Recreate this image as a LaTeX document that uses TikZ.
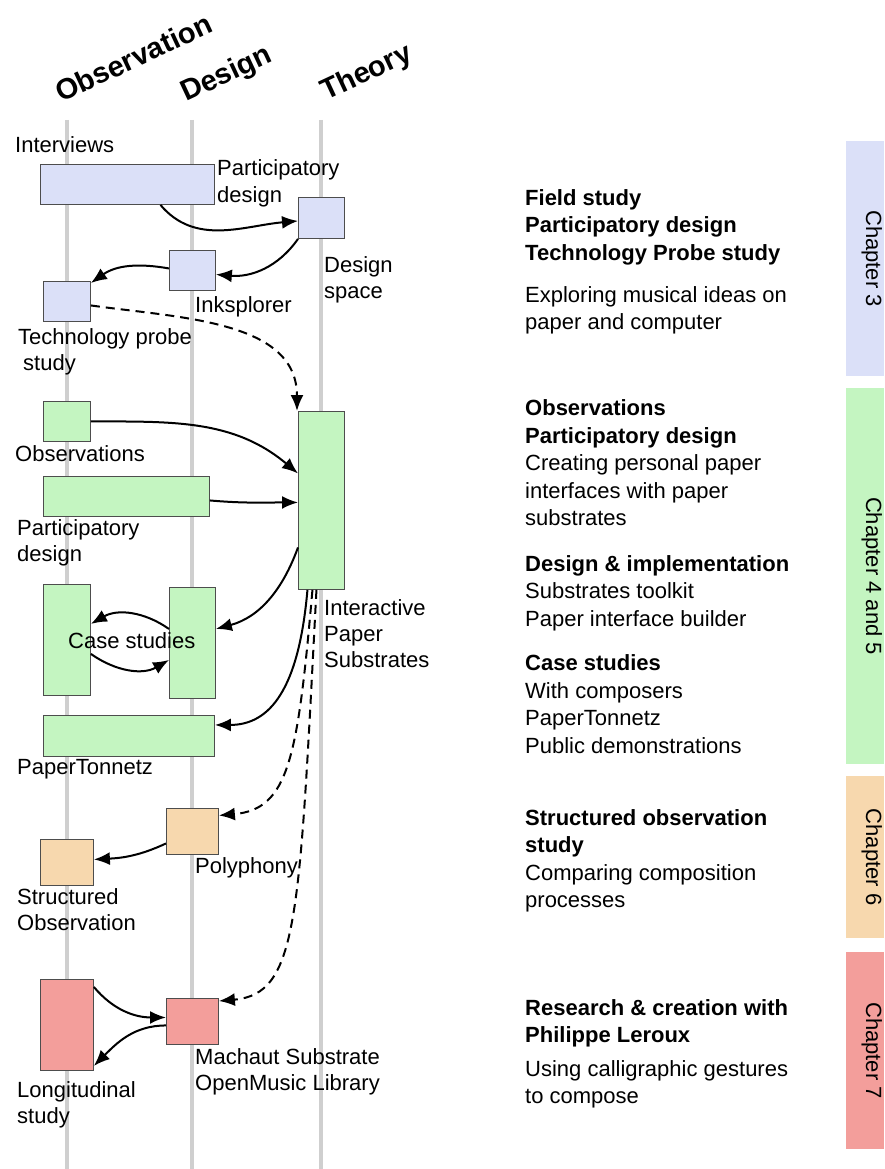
\documentclass[tikz,border=0pt]{standalone}
\usepackage{fontspec}
\setmainfont{Liberation Sans}
\usetikzlibrary{arrows.meta}

\definecolor{chapblue}{HTML}{DBE0F8}
\definecolor{chapgreen}{HTML}{C4F5C1}
\definecolor{chaporange}{HTML}{F7D8AE}
\definecolor{chapred}{HTML}{F39E9B}
\definecolor{railgray}{HTML}{CFCFCF}
\definecolor{boxline}{HTML}{4D4D4D}

\tikzset{
  rail/.style={draw=railgray, line width=4pt},
  stepbox/.style={draw=boxline, line width=0.9pt, inner sep=0pt, anchor=north west},
  lbl/.style={anchor=base west, align=left, inner sep=0pt, font=\fontsize{22}{26}\selectfont},
  rtext/.style={anchor=base west, align=left, inner sep=0pt, font=\fontsize{22}{27.5}\selectfont},
  head/.style={anchor=base west, inner sep=0pt, rotate=25, font=\bfseries\fontsize{29}{35}\selectfont},
  chaplbl/.style={anchor=base, inner sep=0pt, rotate=-90, font=\fontsize{22}{26}\selectfont},
  flow/.style={draw=black, line width=2pt, -{Latex[length=16pt,width=13pt]}},
  later/.style={flow, dash pattern=on 9pt off 6pt}
}

\begin{document}
\begin{tikzpicture}[x=1pt,y=1pt]
    \useasboundingbox (0,0) rectangle (884,-1169);

    % the three columns
    \foreach \xr in {67,192,321}
        \draw[rail] (\xr,-120) -- (\xr,-1169);

    \node[head] (hobs) at (61,-103) {Observation};
    \node[head] (hdes) at (186,-102) {Design};
    \node[head] (hthe) at (326,-101) {Theory};

    % chapter 3
    \node[stepbox, fill=chapblue, minimum width=174pt, minimum height=40pt] (interviews) at (40,-164) {};
    \node[stepbox, fill=chapblue, minimum width=46pt, minimum height=41pt] (dspace) at (298,-197) {};
    \node[stepbox, fill=chapblue, minimum width=46pt, minimum height=40pt] (inksp) at (169,-250) {};
    \node[stepbox, fill=chapblue, minimum width=47pt, minimum height=40pt] (probe) at (43,-281) {};

    % multi-line labels sit on their last line
    \node[lbl] (linterviews) at (15,-153) {Interviews};
    \node[lbl] (lpdone) at (217,-202) {Participatory\\design};
    \node[lbl] (ldspace) at (324,-298) {Design\\space};
    \node[lbl] (linksp) at (195,-312) {Inksplorer};
    \node[lbl] (lprobe) at (18,-370) {Technology probe\\\hspace*{5pt}study};

    % chapter 4 and 5
    \node[stepbox, fill=chapgreen, minimum width=47pt, minimum height=40pt] (obs) at (43,-401) {};
    \node[stepbox, fill=chapgreen, minimum width=166pt, minimum height=40pt] (pd) at (43,-476) {};
    \node[stepbox, fill=chapgreen, minimum width=46pt, minimum height=178pt] (ips) at (298,-411) {};
    \node[stepbox, fill=chapgreen, minimum width=47pt, minimum height=111pt] (caseL) at (43,-584) {};
    \node[stepbox, fill=chapgreen, minimum width=46pt, minimum height=111pt] (caseR) at (169,-587) {};
    \node[stepbox, fill=chapgreen, minimum width=171pt, minimum height=41pt] (tonnetz) at (43,-715) {};

    \node[lbl] (lobs) at (15,-461) {Observations};
    \node[lbl] (lpd) at (17,-561) {Participatory\\design};
    \node[lbl] (lcase) at (68,-648) {Case studies};
    \node[lbl] (lips) at (324,-667) {Interactive\\Paper\\Substrates};
    \node[lbl] (ltonnetz) at (17,-774) {PaperTonnetz};

    % chapter 6 and 7
    \node[stepbox, fill=chaporange, minimum width=52pt, minimum height=46pt] (poly) at (166,-808) {};
    \node[stepbox, fill=chaporange, minimum width=53pt, minimum height=46pt] (struct) at (40,-839) {};
    \node[stepbox, fill=chapred, minimum width=53pt, minimum height=91pt] (longi) at (40,-979) {};
    \node[stepbox, fill=chapred, minimum width=52pt, minimum height=46pt] (machaut) at (166,-998) {};

    \node[lbl] (lpoly) at (195,-873) {Polyphony};
    \node[lbl] (lstruct) at (17,-930) {Structured\\Observation};
    \node[lbl] (llongi) at (17,-1123) {Longitudinal\\study};
    \node[lbl] (lmachaut) at (195,-1090) {Machaut Substrate\\OpenMusic Library};

    % connectors
    \draw[flow] ([xshift=33pt]interviews.south) to[out=-50,in=185] ([yshift=-3pt]dspace.west);
    \draw[flow] (dspace.south west) to[out=-125,in=-5] ([yshift=-4pt]inksp.east);
    \draw[flow] ([yshift=2pt]inksp.west) to[out=170,in=35] ([yshift=-2pt]probe.north east);
    \draw[later] ([yshift=-4pt]probe.east) to[out=-8,in=90] ([xshift=-1pt]ips.north west);

    \draw[flow] (obs.east) to[out=0,in=140] ([yshift=27pt]ips.west);
    \draw[flow] ([yshift=-4pt]pd.east) to[out=-5,in=180] ([yshift=-2pt]ips.west);
    \draw[flow] ([yshift=-47pt]ips.west) to[out=-110,in=15] ([yshift=14pt]caseR.east);
    \draw[flow] ([yshift=14pt]caseR.west) to[out=145,in=30] ([yshift=16pt]caseL.east);
    \draw[flow] ([yshift=-14pt]caseL.east) to[out=-35,in=-150] ([yshift=-17pt]caseR.west);
    \draw[flow] ([xshift=-14pt]ips.south) .. controls +(-95:100) and +(0:55) .. ([yshift=11pt]tonnetz.east);
    \draw[later] ([xshift=-9pt]ips.south) .. controls +(-95:170) and +(5:70) .. ([yshift=16pt]poly.east);
    \draw[later] ([xshift=-5pt]ips.south) .. controls +(-93:330) and +(5:80) .. ([yshift=-3pt]machaut.north east);

    \draw[flow] ([yshift=-12pt]poly.west) to[out=-155,in=3] ([yshift=3pt]struct.east);
    \draw[flow] ([yshift=-8pt]longi.north east) to[out=-50,in=180] ([yshift=4pt]machaut.west);
    \draw[flow] ([yshift=-4pt]machaut.west) to[out=180,in=45] ([yshift=5pt]longi.south east);

    % right hand side
    \node[rtext] (tfield) at (525,-260) {\bfseries Field study\\\bfseries Participatory design\\\bfseries Technology Probe study};
    \node[rtext] (tfieldd) at (525,-329.5) {Exploring musical ideas on\\paper and computer};
    \node[rtext] (tobs) at (525,-525.5) {\bfseries Observations\\\bfseries Participatory design\\Creating personal paper\\interfaces with paper\\substrates};
    \node[rtext] (timpl) at (525,-626) {\bfseries Design \& implementation\\Substrates toolkit\\Paper interface builder};
    \node[rtext] (tcase) at (525,-753) {\bfseries Case studies\\With composers\\PaperTonnetz\\Public demonstrations};
    \node[rtext] (tstruct) at (525,-907.5) {\bfseries Structured observation\\\bfseries study\\Comparing composition\\processes};
    \node[rtext] (tleroux) at (525,-1042.5) {\bfseries Research \& creation with\\\bfseries Philippe Leroux};
    \node[rtext] (tlerouxd) at (525,-1103.5) {Using calligraphic gestures\\to compose};

    \fill[chapblue] (846,-141) rectangle (884,-376);
    \fill[chapgreen] (846,-388) rectangle (884,-764);
    \fill[chaporange] (846,-776) rectangle (884,-938);
    \fill[chapred] (846,-952) rectangle (884,-1149);
    \node[chaplbl] (chthree) at (866,-258.5) {Chapter 3};
    \node[chaplbl] (chfour) at (866,-576) {Chapter 4 and 5};
    \node[chaplbl] (chsix) at (866,-857) {Chapter 6};
    \node[chaplbl] (chseven) at (866,-1050.5) {Chapter 7};
\end{tikzpicture}
\end{document}
